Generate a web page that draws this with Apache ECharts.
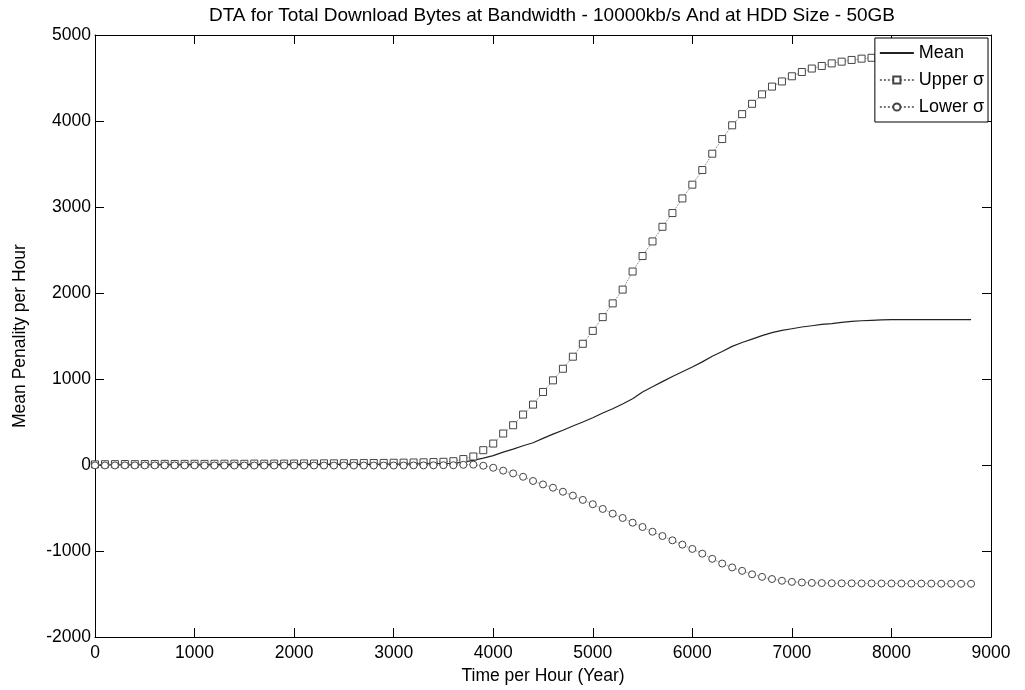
<!DOCTYPE html>
<html>
<head>
<meta charset="utf-8">
<script src="https://cdn.jsdelivr.net/npm/echarts@6/dist/echarts.min.js"></script>
<style>
  html, body { margin: 0; padding: 0; background: #fff; }
  #chart { width: 1025px; height: 690px; }
</style>
</head>
<body>
<div id="chart"></div>
<script>
// time axis (hours), one point every 100
var hours = [0,100,200,300,400,500,600,700,800,900,1000,1100,1200,1300,1400,1500,1600,1700,1800,1900,
  2000,2100,2200,2300,2400,2500,2600,2700,2800,2900,3000,3100,3200,3300,3400,3500,3600,3700,3800,3900,
  4000,4100,4200,4300,4400,4500,4600,4700,4800,4900,5000,5100,5200,5300,5400,5500,5600,5700,5800,5900,
  6000,6100,6200,6300,6400,6500,6600,6700,6800,6900,7000,7100,7200,7300,7400,7500,7600,7700,7800,7900,
  8000,8100,8200,8300,8400,8500,8600,8700,8800];

var meanVals = [2,3,3,4,3,4,4,5,4,5,5,4,5,5,6,5,6,5,6,6,
  6,7,6,7,7,8,8,9,9,10,11,12,13,14,16,18,20,35,55,80,
  110,150,185,225,260,310,360,405,455,500,550,605,655,710,770,850,910,970,1030,1085,
  1140,1200,1265,1320,1380,1425,1465,1505,1540,1565,1585,1605,1620,1635,1645,1660,1670,1678,1683,1687,
  1690,1691,1692,1692,1692,1692,1691,1691,1690];

var upperVals = [8,10,11,12,11,12,13,14,13,14,15,14,15,16,16,15,17,16,17,17,
  18,19,18,20,20,21,22,23,24,25,27,28,30,32,35,38,45,70,100,173,
  250,367,463,587,703,850,985,1120,1260,1410,1560,1720,1880,2040,2250,2430,2600,2770,2930,3100,
  3260,3430,3620,3790,3950,4080,4200,4310,4400,4460,4520,4570,4610,4640,4670,4690,4710,4725,4735,4745,
  4750,4752,4754,4755,4756,4756,4756,4757,4757];

var lowerVals = [-3,-4,-4,-4,-4,-4,-4,-4,-4,-4,-4,-5,-5,-5,-5,-5,-5,-5,-5,-5,
  -5,-5,-5,-5,-5,-5,-5,-5,-5,-5,-5,-5,-4,-4,-3,-2,-2,3,5,-8,
  -31,-65,-97,-136,-185,-225,-263,-310,-355,-405,-455,-510,-565,-615,-670,-720,-775,-825,-875,-925,
  -975,-1030,-1090,-1145,-1190,-1230,-1270,-1300,-1325,-1345,-1358,-1365,-1370,-1372,-1374,-1375,-1375,-1376,-1376,-1377,
  -1377,-1377,-1378,-1378,-1378,-1379,-1379,-1380,-1380];

var xTicks = [0, 9000, 1000];
var yTicks = [-2000, 5000, 1000];

function pairs(ys) {
  return hours.map(function (h, i) { return [h, ys[i]]; });
}

var font = 'Liberation Sans, Arial, sans-serif';
var tickInside = { show: true, inside: true, length: 9, lineStyle: { color: '#000', width: 1 } };
var plain = function (v) { return String(v); };

var option = {
  backgroundColor: '#fff',
  animation: false,
  title: {
    text: 'DTA for Total Download Bytes at Bandwidth - 10000kb/s And at HDD Size - 50GB',
    left: 547, top: 1, textAlign: 'center',
    textStyle: { fontFamily: font, fontSize: 19, fontWeight: 'normal', color: '#000' }
  },
  grid: { left: 95, right: 34, top: 35, bottom: 51 },
  legend: {
    orient: 'vertical', right: 37, top: 38,
    backgroundColor: '#fff', borderColor: '#000', borderWidth: 1,
    padding: [6, 4, 6, 4], itemGap: 9, itemWidth: 34, itemHeight: 9,
    textStyle: { fontFamily: font, fontSize: 18, color: '#000' },
    data: [
      { name: 'Mean', itemStyle: { color: 'rgba(0,0,0,0)', borderWidth: 0 } },
      'Upper σ', 'Lower σ'
    ]
  },
  xAxis: [{
    type: 'value', min: xTicks[0], max: xTicks[1], interval: xTicks[2],
    name: 'Time per Hour (Year)', nameLocation: 'middle', nameGap: 23,
    nameTextStyle: { fontFamily: font, fontSize: 17.5, color: '#000' },
    axisLine: { onZero: false, lineStyle: { color: '#000' } },
    axisTick: tickInside,
    axisLabel: { fontFamily: font, fontSize: 17.5, color: '#000', margin: 7, formatter: plain },
    splitLine: { show: false }
  }, {
    type: 'value', position: 'top', min: xTicks[0], max: xTicks[1], interval: xTicks[2],
    axisLine: { onZero: false, lineStyle: { color: '#000' } },
    axisTick: tickInside, axisLabel: { show: false }, splitLine: { show: false }
  }],
  yAxis: [{
    type: 'value', min: yTicks[0], max: yTicks[1], interval: yTicks[2],
    name: 'Mean Penality per Hour', nameLocation: 'middle', nameGap: 66,
    nameTextStyle: { fontFamily: font, fontSize: 17.5, color: '#000' },
    axisLine: { show: true, onZero: false, lineStyle: { color: '#000' } },
    axisTick: tickInside,
    axisLabel: { fontFamily: font, fontSize: 17.5, color: '#000', margin: 4, formatter: plain },
    splitLine: { show: false }
  }, {
    type: 'value', position: 'right', min: yTicks[0], max: yTicks[1], interval: yTicks[2],
    axisLine: { show: true, onZero: false, lineStyle: { color: '#000' } },
    axisTick: tickInside, axisLabel: { show: false }, splitLine: { show: false }
  }],
  series: [{
    name: 'Mean', type: 'line', data: pairs(meanVals),
    showSymbol: false, symbol: 'none',
    lineStyle: { color: '#222', width: 1.2 }, itemStyle: { color: '#222' }, z: 3
  }, {
    name: 'Upper σ', type: 'line', data: pairs(upperVals),
    symbol: 'rect', symbolSize: 7,
    lineStyle: { color: '#777', width: 1, type: 'dotted' },
    itemStyle: { color: '#fff', borderColor: '#444', borderWidth: 1 }
  }, {
    name: 'Lower σ', type: 'line', data: pairs(lowerVals),
    symbol: 'circle', symbolSize: 7,
    lineStyle: { color: '#777', width: 1, type: 'dotted' },
    itemStyle: { color: '#fff', borderColor: '#444', borderWidth: 1 }
  }]
};

var myChart = echarts.init(document.getElementById('chart'));
myChart.setOption(option);
</script>
</body>
</html>
